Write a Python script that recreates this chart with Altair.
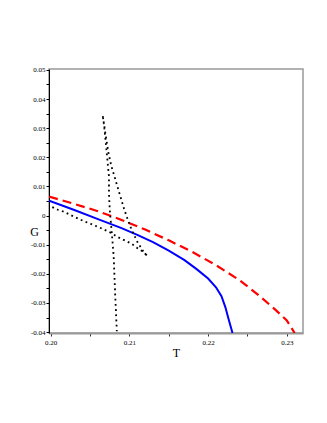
import altair as alt
import pandas as pd

# Blue solid curve
blue_T = [0.1998, 0.2030, 0.2060, 0.2090, 0.2110, 0.2130, 0.2150, 0.2170, 0.2185,
          0.2200, 0.2210, 0.2217, 0.2222, 0.2226, 0.2231]
blue_G = [0.0051, 0.0019, -0.0012, -0.0043, -0.0066, -0.0091, -0.0120, -0.0153, -0.0183,
          -0.0216, -0.0246, -0.0277, -0.0315, -0.0355, -0.0403]

# Red dashed curve
red_T = [0.1998, 0.2030, 0.2060, 0.2090, 0.2120, 0.2150, 0.2180, 0.2210, 0.2240,
         0.2265, 0.2285, 0.2300, 0.2310]
red_G = [0.0065, 0.0040, 0.0015, -0.0015, -0.0048, -0.0085, -0.0125, -0.0170, -0.0222,
         -0.0275, -0.0322, -0.0360, -0.0403]

# Black dotted swallowtail
dot_T = [0.2002, 0.2009, 0.2016, 0.2029, 0.2041, 0.2054, 0.2067, 0.2075, 0.2086, 0.2094,
         0.2103, 0.2109, 0.2118, 0.2123,
         0.2117, 0.2110, 0.2103, 0.2098, 0.2093, 0.2088, 0.2082, 0.2077, 0.2073, 0.2069, 0.2066,
         0.2068, 0.2070, 0.2072, 0.2074, 0.2074, 0.2075, 0.2078, 0.2080, 0.2082, 0.2084]
dot_G = [0.0029, 0.0020, 0.0014, -0.0003, -0.0018, -0.0032, -0.0047, -0.0057, -0.0075, -0.0085,
         -0.0097, -0.0110, -0.0125, -0.0140,
         -0.0120, -0.0090, -0.0050, -0.0015, 0.0025, 0.0070, 0.0125, 0.0170, 0.0220, 0.0290, 0.0345,
         0.0305, 0.0248, 0.0191, 0.0134, 0.0077, 0.0020, -0.0072, -0.0140, -0.0277, -0.0397]

x_ticks = [round(0.200 + 0.005 * i, 3) for i in range(7)]
y_ticks = [round(-0.040 + 0.005 * i, 3) for i in range(19)]

blue_df = pd.DataFrame({"T": blue_T, "G": blue_G, "i": range(len(blue_T))})
red_df = pd.DataFrame({"T": red_T, "G": red_G, "i": range(len(red_T))})
dot_df = pd.DataFrame({"T": dot_T, "G": dot_G, "i": range(len(dot_T))})

xscale = alt.Scale(domain=[0.19978, 0.23206], nice=False, zero=False)
yscale = alt.Scale(domain=[-0.0403, 0.0503], nice=False, zero=False)

xlab = "abs(round(datum.value*200)) % 2 == 0 ? format(datum.value, '.2f') : ''"
ylab = ("abs(round(datum.value*200)) % 2 == 0 ? "
        "(abs(datum.value) < 1e-9 ? '0' : (datum.value < 0 ? '-' : '') + format(abs(datum.value), '.2f')) : ''")

xaxis = alt.Axis(values=x_ticks, labelExpr=xlab, title="T", grid=False,
                 domainColor="#999999", domainWidth=2, tickColor="#333333", tickSize=3,
                 labelFont="Liberation Serif", labelFontSize=7, labelColor="#000000",
                 labelPadding=2, labelOverlap=False, labelBound=False, labelFlush=False,
                 titleFont="Liberation Serif", titleFontSize=12,
                 titleFontWeight="normal", titleY=23, titleBaseline="alphabetic")
yaxis = alt.Axis(values=y_ticks, labelExpr=ylab, title="G", grid=False, titleAngle=0,
                 domainColor="#000000", domainWidth=1, tickColor="#000000", tickSize=3,
                 labelFont="Liberation Serif", labelFontSize=7, labelColor="#000000",
                 labelPadding=1, labelOverlap=False, labelBound=False, labelFlush=False,
                 titleFont="Liberation Serif", titleFontSize=12,
                 titleFontWeight="normal", titleX=-15, titleY=166, titleAlign="center",
                 titleBaseline="alphabetic")

X = alt.X("T:Q", scale=xscale, axis=xaxis)
Y = alt.Y("G:Q", scale=yscale, axis=yaxis)

red = alt.Chart(red_df).mark_line(color="#ff0000", strokeWidth=2.2, strokeDash=[9, 5], clip=True).encode(
    x=X, y=Y, order="i:Q",
)
blue = alt.Chart(blue_df).mark_line(color="#0000ff", strokeWidth=2, clip=True).encode(
    x=X, y=Y, order="i:Q",
)
dots = alt.Chart(dot_df).mark_line(color="#000000", strokeWidth=1.8, strokeDash=[1.8, 3.4], clip=True).encode(
    x=X, y=Y, order="i:Q",
)

chart = alt.layer(red, blue, dots).properties(
    width=254, height=264,
    autosize=alt.AutoSizeParams(type="none"),
    padding={"left": 41, "top": 61, "right": 16, "bottom": 60},
).configure_view(stroke="#999999", strokeWidth=1.5)

chart.save("out.html", embed_options={"renderer": "svg", "actions": False})
